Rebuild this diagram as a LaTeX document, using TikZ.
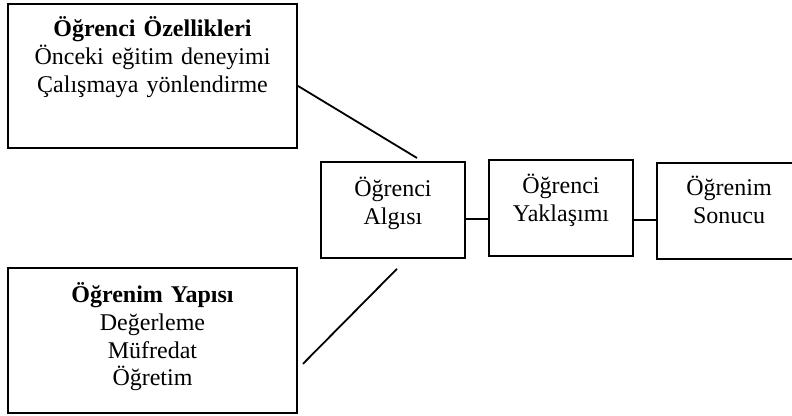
\documentclass[tikz,border=0pt]{standalone}
\usepackage{fontspec}
\setmainfont{Liberation Serif}
\usepackage{tikz}

\begin{document}
\begin{tikzpicture}[x=0.5pt, y=-0.5pt, line width=0.9pt,
    kutu/.style={draw, inner sep=0pt, align=center, anchor=north,
      font=\fontsize{12}{13.8}\selectfont},
    genis/.style={kutu, text width=144.5pt},
    dar/.style={kutu, text width=72pt}]
        \useasboundingbox (0,0) rectangle (792,416);
        \clip (0,0) rectangle (792,416);
        \node[genis, text height=16.5pt, text depth=55.5pt] (ozellik) at (152.5,3)
          {\textbf{Öğrenci Özellikleri}\\Önceki eğitim deneyimi\\Çalışmaya yönlendirme};
        \node[genis, text height=17.5pt, text depth=55pt] (yapi) at (152.5,267)
          {\textbf{Öğrenim Yapısı}\\Değerleme\\Müfredat\\Öğretim};
        \node[dar, text height=17.5pt, text depth=30.5pt] (algi) at (393,161) {Öğrenci\\Algısı};
        \node[dar, text height=17pt, text depth=31pt] (yaklasim) at (561,159) {Öğrenci\\Yaklaşımı};
        \node[dar, text height=16.5pt, text depth=31.5pt] (sonuc) at (729,162) {Öğrenim\\Sonucu};
        \draw ([yshift=-5pt]ozellik.east) -- ([xshift=12pt,yshift=1.5pt]algi.north);
        \draw ([xshift=2.5pt,yshift=-11.75pt]yapi.east) -- ([xshift=2pt,yshift=-5pt]algi.south);
        \draw ([yshift=-4.5pt]algi.east) -- ([yshift=-5.5pt]yaklasim.west);
        \draw ([yshift=-6pt]yaklasim.east) -- ([yshift=-4.5pt]sonuc.west);
      \end{tikzpicture}
\end{document}
